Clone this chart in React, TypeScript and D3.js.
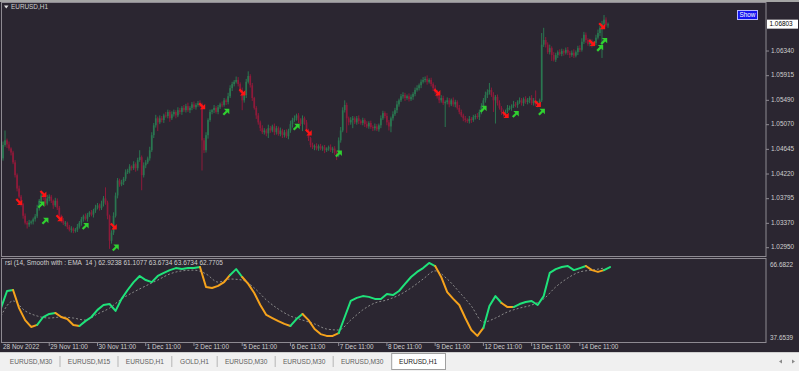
import * as d3 from "d3";

// EURUSD H1, one candle per hour from 28 Nov 2022. Prices are kept in pips above 1.0000.
const firstOpen = 463;
const closes = [
  449, 472, 480, 473, 466, 459, 442, 420, 397, 383,
  370, 350, 338, 335, 338, 340, 344, 349, 363, 376,
  385, 382, 371, 380, 383, 376, 368, 376, 364, 350,
  342, 337, 338, 331, 326, 328, 324, 326, 331, 338,
  344, 349, 345, 352, 356, 352, 359, 364, 368, 363,
  371, 380, 373, 350, 307, 321, 350, 385, 411, 404,
  408, 414, 425, 428, 435, 432, 439, 432, 446, 451,
  420, 437, 442, 449, 463, 489, 506, 518, 511, 518,
  515, 523, 522, 529, 518, 525, 529, 523, 532, 529,
  536, 532, 539, 532, 536, 542, 537, 541, 544, 542,
  480, 463, 489, 515, 529, 532, 536, 529, 537, 542,
  541, 549, 546, 556, 570, 577, 581, 584, 577, 567,
  549, 558, 581, 591, 575, 553, 536, 523, 511, 501,
  494, 497, 492, 501, 497, 504, 494, 501, 491, 497,
  489, 494, 487, 497, 508, 515, 518, 523, 515, 508,
  518, 511, 497, 484, 472, 468, 470, 466, 470, 466,
  468, 463, 466, 468, 463, 466, 459, 454, 480, 497,
  532, 541, 518, 511, 515, 518, 511, 518, 513, 510,
  515, 508, 504, 510, 503, 501, 504, 499, 506, 518,
  527, 522, 511, 504, 518, 525, 532, 542, 549, 556,
  558, 553, 556, 551, 555, 560, 567, 570, 575, 581,
  584, 586, 581, 584, 577, 570, 563, 556, 549, 553,
  544, 546, 549, 542, 549, 542, 546, 536, 529, 523,
  518, 515, 513, 517, 515, 520, 522, 520, 529, 539,
  549, 558, 563, 567, 558, 549, 555, 544, 536, 529,
  525, 530, 536, 536, 539, 542, 541, 546, 549, 544,
  551, 546, 549, 553, 544, 549, 542, 544, 549, 645,
  653, 645, 632, 639, 627, 619, 627, 632, 629, 634,
  631, 636, 631, 627, 631, 626, 632, 639, 636, 650,
  662, 653, 646, 650, 645, 648, 657, 665, 674, 681,
  688, 679, 680,
];
// upper / lower shadow beyond the body, pips
const highWicks = [
  4, 6, 17, 3, 5, 2, 3, 4, 3, 5, 3, 2, 4, 3, 5, 2, 3, 4, 6, 3,
  5, 4, 3, 6, 4, 3, 2, 5, 4, 3, 2, 4, 3, 2, 3, 4, 2, 3, 5, 3,
  4, 3, 5, 3, 2, 4, 3, 5, 4, 3, 5, 4, 19, 3, 2, 4, 6, 5, 4, 3,
  4, 3, 5, 3, 4, 2, 5, 3, 4, 12, 3, 5, 4, 3, 6, 5, 4, 6, 3, 5,
  4, 3, 6, 4, 3, 5, 4, 3, 5, 4, 3, 5, 4, 6, 3, 4, 5, 3, 4, 5,
  3, 4, 5, 3, 4, 2, 5, 3, 4, 3, 5, 4, 3, 6, 5, 4, 3, 6, 5, 3,
  4, 6, 5, 8, 3, 4, 2, 3, 4, 3, 5, 4, 3, 6, 4, 3, 5, 4, 3, 5,
  3, 4, 5, 3, 6, 4, 5, 3, 4, 3, 5, 3, 4, 3, 2, 4, 3, 5, 3, 4,
  3, 4, 2, 3, 5, 3, 4, 3, 5, 6, 5, 8, 4, 3, 5, 4, 3, 4, 5, 3,
  4, 3, 5, 3, 4, 3, 5, 4, 3, 5, 4, 3, 5, 4, 3, 5, 4, 6, 3, 4,
  5, 4, 3, 5, 4, 3, 4, 5, 3, 4, 5, 4, 6, 3, 4, 3, 5, 4, 3, 5,
  4, 3, 5, 4, 3, 5, 4, 3, 5, 4, 3, 4, 3, 5, 3, 4, 3, 5, 4, 5,
  4, 6, 5, 12, 4, 5, 3, 4, 5, 3, 4, 3, 5, 4, 3, 6, 4, 3, 5, 4,
  3, 5, 4, 3, 5, 4, 17, 4, 3, 20, 21, 5, 4, 6, 3, 5, 4, 3, 5, 4,
  3, 4, 5, 3, 4, 6, 3, 4, 5, 6, 5, 4, 3, 5, 4, 3, 5, 6, 4, 5,
  8, 4, 3,
];
const lowWicks = [
  5, 4, 3, 6, 4, 5, 3, 4, 5, 3, 4, 5, 3, 7, 4, 3, 5, 4, 3, 4,
  3, 5, 4, 3, 5, 4, 6, 3, 4, 5, 4, 3, 5, 4, 3, 5, 4, 3, 4, 3,
  5, 4, 3, 5, 4, 3, 5, 4, 3, 4, 3, 5, 4, 6, 14, 5, 4, 3, 5, 4,
  3, 5, 4, 3, 5, 4, 3, 6, 4, 3, 26, 4, 5, 3, 4, 3, 5, 4, 15, 3,
  4, 5, 3, 4, 6, 3, 4, 5, 3, 4, 5, 3, 4, 3, 5, 4, 3, 4, 3, 5,
  52, 5, 4, 6, 3, 4, 5, 3, 4, 3, 4, 3, 5, 4, 3, 5, 4, 3, 4, 5,
  17, 4, 5, 3, 4, 5, 3, 6, 4, 5, 3, 4, 5, 8, 4, 3, 5, 4, 3, 4,
  5, 4, 3, 5, 4, 6, 3, 4, 5, 3, 12, 4, 3, 5, 4, 3, 5, 3, 4, 3,
  4, 5, 3, 4, 3, 5, 4, 8, 3, 4, 3, 4, 25, 5, 4, 14, 3, 4, 5, 3,
  4, 5, 3, 4, 3, 5, 4, 3, 4, 5, 3, 4, 5, 7, 10, 4, 3, 5, 4, 3,
  4, 5, 3, 4, 3, 5, 4, 3, 4, 5, 3, 4, 5, 3, 4, 5, 3, 4, 5, 4,
  3, 41, 4, 5, 3, 4, 5, 3, 4, 3, 5, 4, 3, 4, 5, 3, 4, 3, 5, 4,
  3, 4, 5, 4, 3, 20, 40, 4, 3, 5, 4, 5, 3, 4, 5, 3, 4, 5, 3, 4,
  5, 3, 4, 5, 3, 4, 3, 5, 4, 3, 4, 5, 3, 4, 10, 3, 4, 5, 3, 4,
  5, 3, 4, 5, 3, 4, 3, 5, 4, 3, 4, 5, 3, 4, 5, 3, 4, 3, 5, 52,
  4, 3, 5,
];

// signal arrows: bar index and price (pips)
const sellArrows = [
  { bar: 9, price: 374 }, { bar: 21, price: 388 }, { bar: 29, price: 346 },
  { bar: 56, price: 332 }, { bar: 100, price: 539 }, { bar: 120, price: 563 },
  { bar: 153, price: 494 }, { bar: 217, price: 563 }, { bar: 251, price: 524 },
  { bar: 267, price: 543 }, { bar: 294, price: 648 }, { bar: 299, price: 677 },
];
const buyArrows = [
  { bar: 20, price: 369 }, { bar: 22, price: 341 }, { bar: 42, price: 332 },
  { bar: 57, price: 295 }, { bar: 112, price: 529 }, { bar: 147, price: 503 },
  { bar: 168, price: 457 }, { bar: 240, price: 534 }, { bar: 256, price: 525 },
  { bar: 269, price: 529 }, { bar: 298, price: 639 }, { bar: 300, price: 651 },
];

const priceTicks = [1.0295, 1.0337, 1.03795, 1.0422, 1.04645, 1.0507, 1.0549, 1.05915, 1.0634];
const lastPrice = 1.06803;

// one label every 24 bars
const timeLabels = [
  "28 Nov 2022", "29 Nov 11:00", "30 Nov 11:00", "1 Dec 11:00", "2 Dec 11:00",
  "5 Dec 11:00", "6 Dec 11:00", "7 Dec 11:00", "8 Dec 11:00", "9 Dec 11:00",
  "12 Dec 11:00", "13 Dec 11:00", "14 Dec 11:00",
];

// RSI, one value every 3 bars
const rsiValues = [
  48.6, 55.3, 55.7, 48.6, 43.9, 41.2, 42.0, 45.1, 46.3, 46.7,
  45.1, 44.3, 42.0, 41.6, 43.5, 45.1, 47.9, 49.8, 50.2, 47.5,
  52.2, 55.7, 58.8, 61.2, 59.6, 58.8, 61.2, 62.4, 63.5, 64.3,
  63.9, 64.3, 64.3, 64.7, 56.9, 56.5, 57.3, 58.8, 61.6, 63.9,
  60.8, 58.1, 54.5, 49.8, 45.9, 44.7, 43.5, 42.4, 41.6, 44.3,
  46.3, 43.9, 40.4, 38.4, 37.7, 37.7, 38.8, 45.1, 51.4, 52.6,
  53.3, 53.0, 52.2, 52.2, 54.1, 53.7, 55.3, 58.1, 60.8, 62.8,
  64.3, 66.3, 65.1, 60.8, 54.9, 52.2, 49.8, 44.7, 40.0, 37.7,
  40.8, 49.4, 53.3, 50.6, 49.0, 49.0, 50.2, 51.0, 51.4, 49.8,
  53.3, 62.4, 63.9, 64.7, 65.1, 63.5, 64.3, 65.1, 63.5, 62.8,
  63.5, 64.7,
];
// EMA smoothing line, one value every 6 bars
const rsiSignal = [
  45.5, 51.4, 47.5, 45.5, 44.7, 45.1, 44.7, 43.9, 46.3, 48.6,
  52.2, 54.9, 57.3, 59.6, 62.0, 63.2, 63.5, 62.0, 58.8, 60.0,
  59.6, 56.5, 51.8, 48.2, 45.5, 43.9, 42.4, 40.4, 40.0, 43.9,
  47.9, 50.6, 51.8, 53.7, 56.5, 60.0, 63.2, 60.0, 54.9, 49.4,
  43.1, 44.7, 47.1, 48.6, 49.8, 52.2, 56.9, 60.4, 62.8, 63.5,
  64.3,
];
// colour of the RSI line: runs of samples
const rsiTrendRuns: [string, number][] = [
  ["up", 2], ["down", 4], ["up", 3], ["down", 4], ["up", 20], ["down", 5],
  ["up", 2], ["down", 8], ["up", 2], ["down", 6], ["up", 16], ["down", 8],
  ["up", 3], ["down", 2], ["up", 12], ["down", 3], ["up", 2],
];
const rsiMax = 66.6822;
const rsiMin = 37.6539;
const rsiLegend = "rsi (14, Smooth with : EMA  14 ) 62.9238 61.1077 63.6734 63.6734 62.7705";

const tabs = ["EURUSD,M30", "EURUSD,M15", "EURUSD,H1", "GOLD,H1", "EURUSD,M30", "EURUSD,M30", "EURUSD,M30", "EURUSD,H1"];
const activeTab = 7;

const W = 799;
const H = 371;
const BG = "#2b2631";
const FRAME = "#8e8a92";
const TEXT = "#cfcfcf";
const FONT = "'Liberation Sans', Arial, sans-serif";
const BULL = "#2a7650";
const BEAR = "#8e1a3a";

// arrow pointing down-right, centred on 0,0
const ARROW = "M-3.6,-2 L-2,-3.6 L1.3,-0.3 L3.2,-2.2 L3.2,3.2 L-2.2,3.2 L-0.3,1.3 Z";

export default function App() {
  const plotR = 766;
  const x = d3.scaleLinear().domain([0, 300]).range([1, 604]);
  const yMain = d3.scaleLinear().domain([295, 507]).range([247.7, 124.7]);
  const yRsi = d3.scaleLinear().domain([rsiMin, rsiMax]).range([336, 262]);
  const pips = (p: number) => (p - 1) * 10000;

  const candles = closes.map((c, i) => {
    const o = i === 0 ? firstOpen : closes[i - 1];
    return { i, o, c, hi: Math.max(o, c) + highWicks[i], lo: Math.min(o, c) - lowWicks[i] };
  });

  const rsiLine = d3
    .line<[number, number]>()
    .x((d) => x(d[0] * 3))
    .y((d) => yRsi(d[1]));
  let start = 0;
  const rsiParts = rsiTrendRuns.map(([trend, len]) => {
    const pts = rsiValues
      .slice(start, Math.min(start + len + 1, rsiValues.length))
      .map((v, j) => [start + j, v] as [number, number]);
    start += len;
    return { trend, d: rsiLine(pts) ?? "" };
  });
  const signalPath =
    d3
      .line<number>()
      .x((_, m) => x(m * 6))
      .y((v) => yRsi(v))
      .curve(d3.curveMonotoneX)(rsiSignal) ?? "";

  let tx = 2;
  const tabBoxes = tabs.map((t, i) => {
    const w = t.length * 4.2 + 16;
    const box = { t, x: tx, w, active: i === activeTab };
    tx += w;
    return box;
  });

  const lastY = yMain(pips(lastPrice));

  return (
    <div style={{ position: "absolute", left: 0, top: 0 }}>
      <svg width={W} height={H} style={{ display: "block" }} fontFamily={FONT}>
        <defs>
          <clipPath id="main-clip">
            <rect x={2} y={3} width={plotR - 2} height={253} />
          </clipPath>
          <clipPath id="rsi-clip">
            <rect x={2} y={259} width={plotR - 2} height={83} />
          </clipPath>
        </defs>

        <rect width={W} height={H} fill={BG} />
        <rect width={W} height={2} fill="#a5a5a5" />

        {/* panel frames */}
        <rect x={1.5} y={2.5} width={plotR - 1.5} height={254} fill="none" stroke={FRAME} />
        <rect x={1.5} y={258.5} width={plotR - 1.5} height={84} fill="none" stroke={FRAME} />

        {/* symbol caption */}
        <path d="M4,5.5 L8.5,5.5 L6.25,8.5 Z" fill="#e0e0e0" />
        <text x={11} y={7.5} fontSize={6.4} fill={TEXT} dominantBaseline="middle">
          EURUSD,H1
        </text>

        {/* candles */}
        <g clipPath="url(#main-clip)">
          {candles.map((k) => {
            const col = k.c >= k.o ? BULL : BEAR;
            const top = yMain(Math.max(k.o, k.c));
            const bot = yMain(Math.min(k.o, k.c));
            return (
              <g key={k.i}>
                <line x1={x(k.i)} x2={x(k.i)} y1={yMain(k.hi)} y2={yMain(k.lo)} stroke={col} strokeWidth={1} />
                <rect x={x(k.i) - 0.85} y={top} width={1.7} height={Math.max(1, bot - top)} fill={col} />
              </g>
            );
          })}
          {sellArrows.map((a, i) => (
            <path key={`s${i}`} d={ARROW} fill="#ff1414" transform={`translate(${x(a.bar)},${yMain(a.price)})`} />
          ))}
          {buyArrows.map((a, i) => (
            <path key={`b${i}`} d={ARROW} fill="#30d030" transform={`translate(${x(a.bar)},${yMain(a.price)}) scale(1,-1)`} />
          ))}
        </g>

        {/* Show button */}
        <rect x={737.5} y={10.5} width={20} height={9} fill="#1414f0" stroke="#b8b8ff" />
        <text x={747.5} y={15.2} fontSize={6.4} fill="#ffffff" textAnchor="middle" dominantBaseline="middle">
          Show
        </text>

        {/* price axis */}
        {priceTicks.map((p) => {
          const y = yMain(pips(p));
          return (
            <g key={p}>
              <line x1={plotR} x2={plotR + 3} y1={y} y2={y} stroke={FRAME} />
              <text x={771} y={y} fontSize={6.4} fill={TEXT} dominantBaseline="middle">
                {p.toFixed(5)}
              </text>
            </g>
          );
        })}
        <rect x={767} y={lastY - 4.5} width={31} height={9} fill="#ffffff" />
        <text x={769.5} y={lastY + 0.3} fontSize={6.4} fill="#000000" dominantBaseline="middle">
          {lastPrice.toFixed(5)}
        </text>

        {/* RSI window */}
        <g clipPath="url(#rsi-clip)">
          <path d={signalPath} fill="none" stroke="#8a8a8a" strokeWidth={1} strokeDasharray="2,2" />
          {rsiParts.map((p, i) => (
            <path
              key={i}
              d={p.d}
              fill="none"
              stroke={p.trend === "up" ? "#1fe27a" : "#f5a21c"}
              strokeWidth={2}
              strokeLinejoin="round"
              strokeLinecap="round"
            />
          ))}
        </g>
        <text x={5} y={263.5} fontSize={6.5} fill={TEXT} dominantBaseline="middle" style={{ whiteSpace: "pre" }}>
          {rsiLegend}
        </text>
        <text x={770} y={yRsi(rsiMax) + 3} fontSize={6.4} fill={TEXT} dominantBaseline="middle">
          {rsiMax.toFixed(4)}
        </text>
        <text x={770} y={yRsi(rsiMin) + 2} fontSize={6.4} fill={TEXT} dominantBaseline="middle">
          {rsiMin.toFixed(4)}
        </text>

        {/* time axis */}
        {timeLabels.map((t, k) => {
          const tx0 = x(k * 24);
          return (
            <g key={t}>
              {k > 0 && <line x1={tx0} x2={tx0} y1={342} y2={346} stroke={FRAME} />}
              <text x={k === 0 ? 3 : tx0 + 1} y={347.5} fontSize={6.4} fill={TEXT} dominantBaseline="middle">
                {t}
              </text>
            </g>
          );
        })}

        {/* chart tabs */}
        <rect x={0} y={352} width={W} height={H - 352} fill="#f0f0f0" />
        <line x1={0} x2={W} y1={352.5} y2={352.5} stroke="#d0d0d0" />
        {tabBoxes.map((b, i) => (
          <g key={i}>
            {b.active ? (
              <rect x={b.x + 0.5} y={353.5} width={b.w} height={16} fill="#ffffff" stroke="#a0a0a0" />
            ) : (
              i < tabBoxes.length - 1 &&
              !tabBoxes[i + 1].active && (
                <line x1={b.x + b.w} x2={b.x + b.w} y1={356} y2={367} stroke="#b5b5b5" />
              )
            )}
            <text
              x={b.x + b.w / 2}
              y={362}
              fontSize={6.6}
              fill={b.active ? "#202020" : "#606060"}
              textAnchor="middle"
              dominantBaseline="middle"
            >
              {b.t}
            </text>
          </g>
        ))}
        <path d="M779,361.5 L782,359.5 L782,363.5 Z" fill="#8a8a8a" />
        <path d="M795,361.5 L792,359.5 L792,363.5 Z" fill="#8a8a8a" />
      </svg>
    </div>
  );
}
